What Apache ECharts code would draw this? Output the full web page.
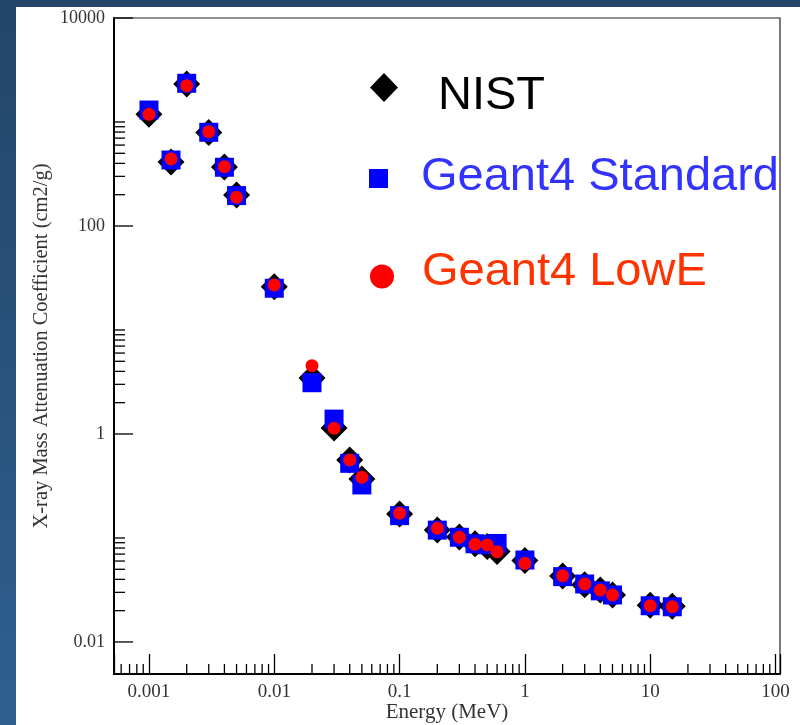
<!DOCTYPE html>
<html>
<head>
<meta charset="utf-8">
<title>X-ray Mass Attenuation Coefficient</title>
<script src="https://cdn.jsdelivr.net/npm/echarts@6/dist/echarts.min.js"></script>
<style>
    html, body {
        margin: 0;
        padding: 0;
        width: 800px;
        height: 725px;
        overflow: hidden;
        background: linear-gradient(to bottom, #234569, #2e6090);
    }
    .paper {
        position: absolute;
        left: 16px;
        top: 7px;
        width: 784px;
        height: 718px;
        background: #fff;
    }
    #chart {
        position: absolute;
        left: 0;
        top: 0;
        width: 800px;
        height: 725px;
    }
</style>
</head>
<body>
<div class="paper"></div>
<div id="chart"></div>
<script>
    // energy in MeV
    var energy = [0.001, 0.0015, 0.002, 0.003, 0.004, 0.005, 0.01, 0.02, 0.03, 0.04, 0.05,
        0.1, 0.2, 0.3, 0.4, 0.5, 0.6, 1, 2, 3, 4, 5, 10, 15];
    // cm2/g
    var nist = [1190, 412, 2318, 793, 369, 199, 26.1, 3.45, 1.14, 0.562, 0.369,
        0.170, 0.119, 0.102, 0.088, 0.083, 0.074, 0.0606, 0.0432, 0.0355, 0.0316, 0.0283, 0.0225, 0.0221];
    var g4Standard = [1303, 431, 2356, 796, 367, 196, 25.2, 3.11, 1.39, 0.522, 0.3235,
        0.164, 0.119, 0.1016, 0.088, 0.086, 0.0886, 0.0614, 0.0425, 0.0361, 0.031, 0.0283, 0.0223, 0.0218];
    var g4LowE = [1186, 441, 2234, 807, 372, 189, 27.1, 4.54, 1.135, 0.562, 0.384,
        0.1728, 0.124, 0.1016, 0.0869, 0.0857, 0.0739, 0.0571, 0.0434, 0.0361, 0.0316, 0.0283, 0.0223, 0.0218];

    // axis ticks
    var yMajorTicks = [0.01, 1, 100, 10000];
    var yMinorTicks = [0.02, 0.03, 0.04, 0.05, 0.06, 0.07, 0.08, 0.09, 0.1,
        2, 3, 4, 5, 6, 7, 8, 9, 10,
        200, 300, 400, 500, 600, 700, 800, 900, 1000];
    var xMinorTicks = [0.0006, 0.0007, 0.0008, 0.0009,
        0.002, 0.003, 0.004, 0.005, 0.006, 0.007, 0.008, 0.009,
        0.02, 0.03, 0.04, 0.05, 0.06, 0.07, 0.08, 0.09,
        0.2, 0.3, 0.4, 0.5, 0.6, 0.7, 0.8, 0.9,
        2, 3, 4, 5, 6, 7, 8, 9,
        20, 30, 40, 50, 60, 70, 80, 90];

    var xMin = 0.000526, xMax = 108.6;
    var yMin = 0.00492, yMax = 10000;

    function zip(a, b) {
        var out = [];
        for (var i = 0; i < a.length; i++) out.push([a[i], b[i]]);
        return out;
    }

    // only label the powers of ten we want
    function decadeLabel(step) {
        return function (v) {
            var l = Math.log10(v);
            var e = Math.round(l);
            if (Math.abs(l - e) > 0.01 || e % step !== 0) return '';
            return e >= 0 ? String(Math.pow(10, e)) : Math.pow(10, e).toFixed(-e);
        };
    }

    function yTickSeries(ticks, len) {
        return {
            type: 'custom',
            silent: true,
            clip: false,
            z: 1,
            data: ticks.map(function (t) { return [1, t]; }),
            renderItem: function (params, api) {
                var y = api.coord([1, api.value(1)])[1];
                var x0 = params.coordSys.x;
                return {
                    type: 'line',
                    shape: { x1: x0, y1: y, x2: x0 + len, y2: y },
                    style: { stroke: '#000', lineWidth: 1.3 }
                };
            }
        };
    }

    var serif = '"Liberation Serif", "Times New Roman", serif';
    var sans = '"Liberation Sans", Arial, sans-serif';

    var chart = echarts.init(document.getElementById('chart'));

    var option = {
        animation: false,
        grid: {
            left: 114,
            top: 18,
            right: 20,
            bottom: 51,
            containLabel: false,
            outerBoundsMode: 'none',
            show: true,
            borderColor: '#222',
            borderWidth: 1.2
        },
        xAxis: {
            type: 'log',
            logBase: 10,
            min: xMin,
            max: xMax,
            name: 'Energy (MeV)',
            nameLocation: 'middle',
            nameGap: 28,
            nameMoveOverlap: false,
            nameTextStyle: { fontFamily: serif, fontSize: 21, color: '#333' },
            axisLine: { onZero: false, lineStyle: { color: '#000', width: 2 } },
            axisTick: { inside: true, length: 20, lineStyle: { color: '#000', width: 1.3 } },
            axisLabel: {
                margin: 9,
                fontFamily: serif,
                fontSize: 19,
                color: '#333',
                formatter: decadeLabel(1)
            },
            splitLine: { show: false },
            minorTick: { show: false }
        },
        yAxis: {
            type: 'log',
            logBase: 10,
            min: yMin,
            max: yMax,
            name: 'X-ray Mass Attenuation Coefficient (cm2/g)',
            nameLocation: 'middle',
            nameGap: 62,
            nameMoveOverlap: false,
            nameTextStyle: { fontFamily: serif, fontSize: 20.5, color: '#333' },
            axisLine: { onZero: false, lineStyle: { color: '#000', width: 2 } },
            axisTick: { show: false },
            axisLabel: {
                margin: 9,
                fontFamily: serif,
                fontSize: 18,
                color: '#333',
                formatter: decadeLabel(2)
            },
            splitLine: { show: false }
        },
        series: [
            yTickSeries(yMajorTicks, 19),
            yTickSeries(yMinorTicks, 11),
            {
                type: 'custom',
                silent: true,
                clip: false,
                z: 1,
                data: xMinorTicks.map(function (t) { return [t, 1]; }),
                renderItem: function (params, api) {
                    var x = api.coord([api.value(0), 1])[0];
                    var y0 = params.coordSys.y + params.coordSys.height;
                    return {
                        type: 'line',
                        shape: { x1: x, y1: y0, x2: x, y2: y0 - 10 },
                        style: { stroke: '#000', lineWidth: 1.3 }
                    };
                }
            },
            {
                name: 'NIST',
                type: 'scatter',
                symbol: 'diamond',
                symbolSize: 27,
                itemStyle: { color: '#000', opacity: 1 },
                data: zip(energy, nist)
            },
            {
                name: 'Geant4 Standard',
                type: 'scatter',
                symbol: 'rect',
                symbolSize: 19,
                itemStyle: { color: '#0000ff', opacity: 1 },
                data: zip(energy, g4Standard)
            },
            {
                name: 'Geant4 LowE',
                type: 'scatter',
                symbol: 'circle',
                symbolSize: 13,
                itemStyle: { color: '#ff0000', opacity: 1 },
                data: zip(energy, g4LowE)
            }
        ],
        // legend drawn by hand, the way it sits in the original figure
        graphic: [
            {
                type: 'polygon',
                shape: { points: [[384, 73], [398, 87.5], [384, 102], [370, 87.5]] },
                style: { fill: '#000' }
            },
            {
                type: 'text',
                x: 438, y: 96,
                style: { text: 'NIST', font: '47px ' + sans, fill: '#000', verticalAlign: 'middle' }
            },
            {
                type: 'rect',
                shape: { x: 369, y: 169, width: 19, height: 19 },
                style: { fill: '#0000ff' }
            },
            {
                type: 'text',
                x: 421, y: 177,
                style: { text: 'Geant4 Standard', font: '47px ' + sans, fill: '#3333ff', verticalAlign: 'middle' }
            },
            {
                type: 'circle',
                shape: { cx: 382, cy: 276.5, r: 12 },
                style: { fill: '#ff0000' }
            },
            {
                type: 'text',
                x: 422, y: 272,
                style: { text: 'Geant4 LowE', font: '47px ' + sans, fill: '#ff3300', verticalAlign: 'middle' }
            }
        ]
    };

    chart.setOption(option);
</script>
</body>
</html>
